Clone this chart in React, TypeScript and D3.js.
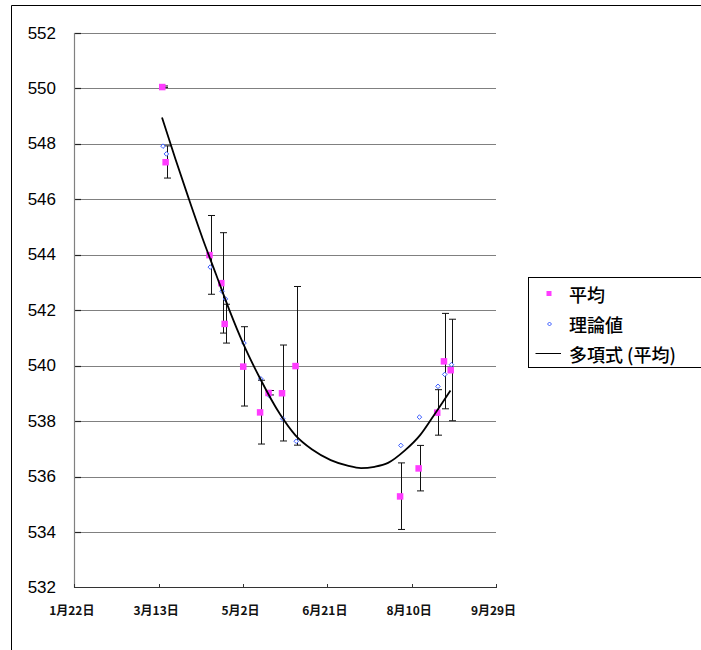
import React from "react";
import * as d3 from "d3";

const pointDates = ["2007-03-15","2007-03-17","2007-04-12","2007-04-19","2007-04-21","2007-05-02","2007-05-12","2007-05-17","2007-05-25","2007-06-02","2007-08-03","2007-08-14","2007-08-25","2007-08-29","2007-09-02"];
const meanValues = [550.06, 547.35, 544.0, 542.99, 541.52, 539.98, 538.33, 539.03, 539.02, 540.0, 535.3, 536.31, 538.32, 540.17, 539.85];
const errorValues = [0.03, 0.58, 1.42, 1.81, 0.7, 1.43, 1.15, 0.08, 1.73, 2.86, 1.2, 0.82, 0.82, 1.72, 1.83];
const theoryValues = [547.92, 547.64, 543.56, 542.69, 542.41, 540.82, 539.53, 538.93, 538.09, 537.28, 537.13, 538.15, 539.26, 539.69, 540.04];

const trendDates = ["2007-03-15","2007-03-23","2007-03-31","2007-04-08","2007-04-16","2007-04-24","2007-05-02","2007-05-12","2007-05-24","2007-06-02","2007-06-12","2007-06-23","2007-07-03","2007-07-11","2007-07-19","2007-07-27","2007-08-06","2007-08-15","2007-08-23","2007-08-28","2007-09-02"];
const trendValues = [548.95, 547.45, 546.0, 544.6, 543.3, 542.0, 540.82, 539.56, 538.25, 537.5, 536.98, 536.6, 536.4, 536.31, 536.36, 536.5, 536.95, 537.5, 538.2, 538.65, 539.11];

const xTickDates = ["2007-01-22","2007-03-13","2007-05-02","2007-06-21","2007-08-10","2007-09-29"];
const xTickLabels = ["1月22日","3月13日","5月2日","6月21日","8月10日","9月29日"];
const yTicks = [532, 534, 536, 538, 540, 542, 544, 546, 548, 550, 552];
const legendLabels = ["平均", "理論値", "多項式 (平均)"];

const parse = d3.timeParse("%Y-%m-%d");

export default function App() {
  const x = d3.scaleTime()
    .domain([parse(xTickDates[0])!, parse(xTickDates[xTickDates.length - 1])!])
    .range([74.3, 496]);
  const y = d3.scaleLinear().domain([532, 552]).range([587.7, 33]);

  const trendLine = d3.line<number>()
    .x((_, i) => x(parse(trendDates[i])!))
    .y((v) => y(v))
    .curve(d3.curveMonotoneX);

  const pink = "#ff3cff";
  const blue = "#3a5cff";
  const jp = "'Noto Sans CJK JP', sans-serif";
  const diamond = (cx: number, cy: number, r: number) =>
    `M${cx},${cy - r}L${cx + r},${cy}L${cx},${cy + r}L${cx - r},${cy}Z`;

  return (
    <div style={{ position: "absolute", left: 0, top: 0 }}>
      <svg width={701} height={650} style={{ display: "block", background: "#fff" }}>
        {/* outer chart border */}
        <path d="M11.5,650V5.5H705" fill="none" stroke="#000" strokeWidth={1} />

        {/* gridlines */}
        {yTicks.filter((t) => t !== 532).map((t) => (
          <g key={t}>
            <line x1={74.3} x2={496} y1={Math.round(y(t)) + 0.5} y2={Math.round(y(t)) + 0.5} stroke="#808080" strokeWidth={1.2} />
            <line x1={74.3} x2={81} y1={Math.round(y(t)) + 0.5} y2={Math.round(y(t)) + 0.5} stroke="#222" strokeWidth={1.2} />
          </g>
        ))}
        {/* axes */}
        <line x1={74.5} x2={74.5} y1={y(552)} y2={y(532)} stroke="#808080" strokeWidth={1.2} />
        <line x1={74.3} x2={496} y1={587.5} y2={587.5} stroke="#333" strokeWidth={1.2} />
        {xTickDates.map((d) => {
          const xx = Math.round(x(parse(d)!)) + 0.5;
          return <line key={d} x1={xx} x2={xx} y1={584} y2={588} stroke="#333" strokeWidth={1} />;
        })}

        {/* y labels */}
        {yTicks.map((t) => (
          <text key={t} x={56} y={y(t)} textAnchor="end" dominantBaseline="central"
            fontFamily="'Liberation Sans', Arial, sans-serif" fontSize={17} fill="#000">{t}</text>
        ))}
        {/* x labels */}
        {xTickDates.map((d, i) => (
          <text key={d} x={x(parse(d)!) - 2.5} y={609.5} textAnchor="middle" dominantBaseline="central"
            fontFamily={jp} fontSize={12} fontWeight="bold" fill="#111">{xTickLabels[i]}</text>
        ))}

        {/* error bars */}
        {pointDates.map((d, i) => {
          const cx = Math.round(x(parse(d)!) + 1.5) + 0.5;
          const top = y(meanValues[i] + errorValues[i]);
          const bot = y(meanValues[i] - errorValues[i]);
          return (
            <g key={"e" + d} stroke="#111" strokeWidth={1}>
              <line x1={cx} x2={cx} y1={top} y2={bot} />
              <line x1={cx - 3.5} x2={cx + 3.5} y1={top} y2={top} />
              <line x1={cx - 3.5} x2={cx + 3.5} y1={bot} y2={bot} />
            </g>
          );
        })}

        {/* theory diamonds */}
        {pointDates.map((d, i) => (
          <path key={"t" + d} d={diamond(x(parse(d)!) + 1, y(theoryValues[i]), 2.3)}
            fill="#fff" stroke={blue} strokeWidth={1} />
        ))}

        {/* mean squares */}
        {pointDates.map((d, i) => (
          <rect key={"m" + d} x={x(parse(d)!) - 3} y={y(meanValues[i]) - 3} width={6.5} height={6.5} fill={pink} />
        ))}

        {/* polynomial trendline */}
        <path d={trendLine(trendValues) || ""} fill="none" stroke="#000" strokeWidth={1.8} />

        {/* legend */}
        <rect x={528.5} y={277.5} width={180} height={90} fill="#fff" stroke="#000" strokeWidth={1} />
        <rect x={546.5} y={291} width={5} height={5} fill={pink} />
        <path d={diamond(549.5, 324, 2)} fill="#fff" stroke={blue} strokeWidth={1} />
        <line x1={535.5} x2={561} y1={353.5} y2={353.5} stroke="#000" strokeWidth={1} />
        {legendLabels.map((l, i) => (
          <text key={l} x={569} y={293.5 + i * 30} dominantBaseline="central"
            fontFamily={jp} fontSize={18} fontWeight={500} fill="#000">{l}</text>
        ))}
      </svg>
    </div>
  );
}
